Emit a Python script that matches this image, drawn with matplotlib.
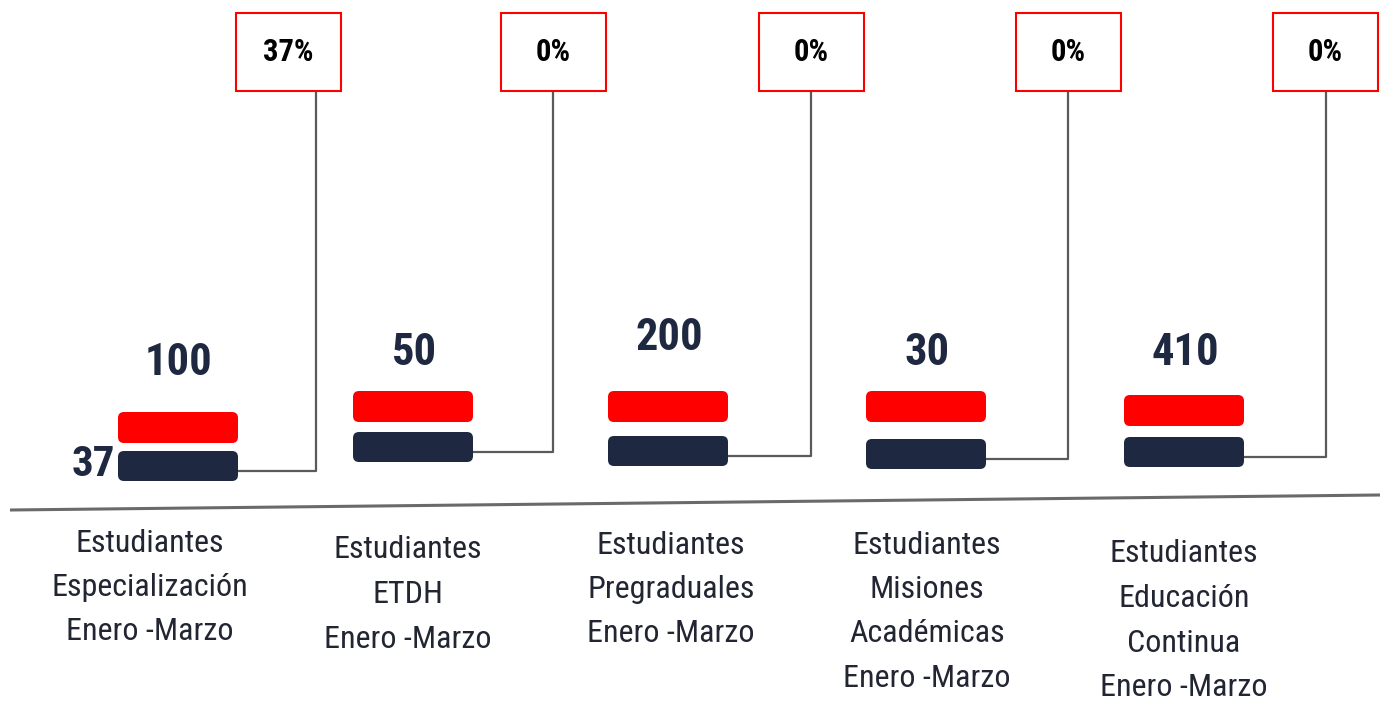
import matplotlib
matplotlib.use("Agg")
import matplotlib.pyplot as plt
from matplotlib.patches import FancyBboxPatch, Rectangle
from matplotlib import font_manager

# ---- data ----
categories = [
    "Estudiantes\nEspecialización\nEnero -Marzo",
    "Estudiantes\nETDH\nEnero -Marzo",
    "Estudiantes\nPregraduales\nEnero -Marzo",
    "Estudiantes\nMisiones\nAcadémicas\nEnero -Marzo",
    "Estudiantes\nEducación\nContinua\nEnero -Marzo",
]
targets = [100, 50, 200, 30, 410]
achieved = [37, 0, 0, 0, 0]
pct_labels = ["37%", "0%", "0%", "0%", "0%"]

# ---- layout (pixels) ----
bar_left = [118, 353, 608, 866, 1124]
red_top = [412, 391, 391, 391, 395]
navy_top = [451, 432, 436, 439, 437]
conn_x = [316, 553, 811, 1068, 1326]
box_left = [236, 501, 759, 1016, 1273]
label_x = [150, 408, 671, 927, 1184]
label_top = [543, 550, 545, 545, 554]
target_y = [363, 353, 338, 353, 353]
bar_w, bar_h = 120, 31

names = {f.name for f in font_manager.fontManager.ttflist}
narrow = "DejaVu Sans"
for cand in ["Liberation Sans Narrow", "Roboto Condensed", "Open Sans Condensed",
             "Noto Sans Condensed", "DejaVu Sans Condensed", "Roboto", "Liberation Sans"]:
    if cand in names:
        narrow = cand
        break

RED = "#FF0000"
NAVY = "#1E2840"
GRAY = "#5A5A5A"

W, H = 1380, 703
fig = plt.figure(figsize=(W / 100, H / 100), dpi=100)
ax = fig.add_axes([0, 0, 1, 1])
ax.set_xlim(0, W)
ax.set_ylim(H, 0)
ax.axis("off")

# baseline
ax.plot([10, 1380], [510, 495], color="#6a6a6a", lw=2.2, solid_capstyle="butt")

for i in range(len(categories)):
    x0 = bar_left[i]
    ax.add_patch(FancyBboxPatch((x0, red_top[i]), bar_w, bar_h,
                                boxstyle="round,pad=0,rounding_size=6",
                                fc=RED, ec="none", zorder=3))
    ax.add_patch(FancyBboxPatch((x0, navy_top[i]), bar_w, bar_h - 1,
                                boxstyle="round,pad=0,rounding_size=6",
                                fc=NAVY, ec="none", zorder=3))
    cx = x0 + bar_w / 2
    ax.text(cx + 1, target_y[i], f"{targets[i]}", ha="center", va="center",
            fontsize=32, fontweight="bold", color=NAVY, family=narrow)
    if achieved[i] > 0:
        ax.text(x0 - 3, navy_top[i] + 13, f"{achieved[i]}", ha="right", va="center",
                fontsize=31, fontweight="bold", color=NAVY, family=narrow)
    ny = navy_top[i] + bar_h / 2 + 4
    cxr = conn_x[i]
    ax.plot([x0 + bar_w, cxr, cxr], [ny, ny, 88], color=GRAY, lw=1.6, zorder=2)
    bx0 = box_left[i]
    ax.add_patch(Rectangle((bx0, 13), 105, 78, fc="white", ec=RED, lw=1.5, zorder=4))
    ax.text(bx0 + 52.5, 52, pct_labels[i], ha="center", va="center",
            fontsize=22, fontweight="bold", color="black", family=narrow, zorder=5)
    lines = categories[i].split("\n")
    for j, ln in enumerate(lines):
        ax.text(label_x[i], label_top[i] + 44.5 * j, ln, ha="center", va="center",
                fontsize=23, color="#222633", family=narrow)

fig.savefig("out.png", dpi=100)
